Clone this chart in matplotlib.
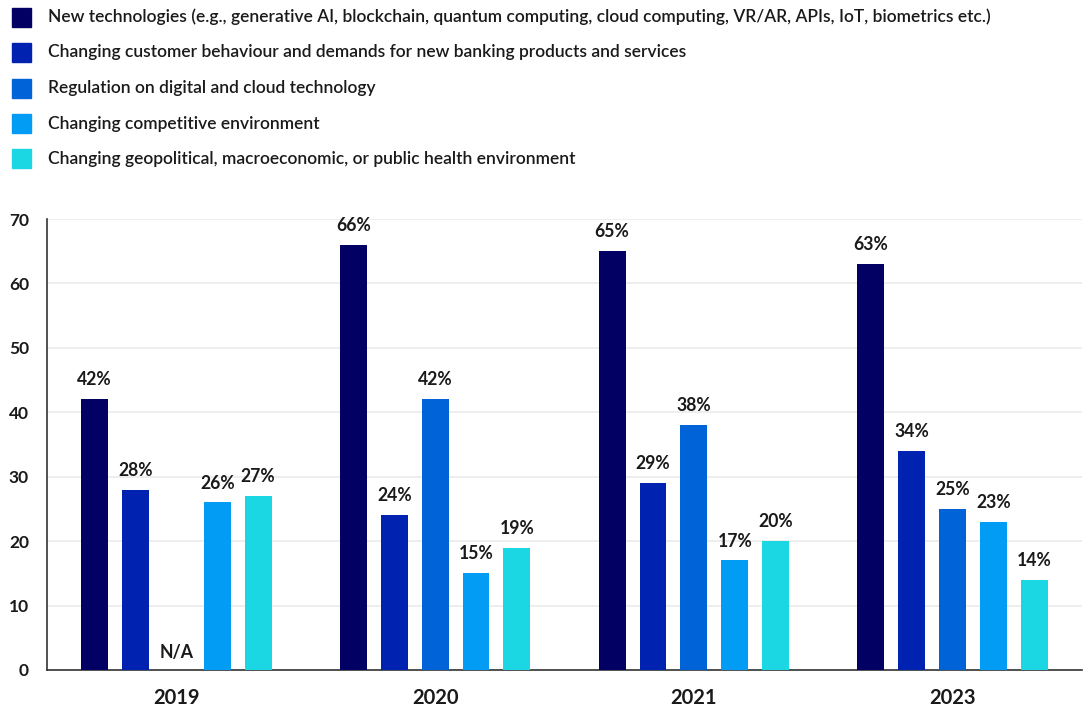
import matplotlib
matplotlib.use("Agg")
import matplotlib.pyplot as plt
from matplotlib.patches import Rectangle
import numpy as np

plt.rcParams['font.family'] = ['Lato', 'DejaVu Sans']

# data
years = ["2019", "2020", "2021", "2023"]
series_names = [
    "New technologies (e.g., generative AI, blockchain, quantum computing, cloud computing, VR/AR, APIs, IoT, biometrics etc.)",
    "Changing customer behaviour and demands for new banking products and services",
    "Regulation on digital and cloud technology",
    "Changing competitive environment",
    "Changing geopolitical, macroeconomic, or public health environment",
]
new_tech = [42, 66, 65, 63]
customer = [28, 24, 29, 34]
regulation = [None, 42, 38, 25]
competitive = [26, 15, 17, 23]
geopolitical = [27, 19, 20, 14]
colors = ["#020062", "#0022B0", "#0063D8", "#039CF5", "#1BD6E3"]

series = [new_tech, customer, regulation, competitive, geopolitical]

fig = plt.figure(figsize=(10.85, 7.11), dpi=100)
ax = fig.add_axes([47/1085, 1 - 670/711, 1035/1085, 451/711])

x = np.arange(len(years))
step = 0.158
width = 0.104
for i, (vals, col) in enumerate(zip(series, colors)):
    pos = x + (i - 2) * step
    for p, v in zip(pos, vals):
        if v is None:
            ax.text(p, 1.4, "N/A", ha="center", va="bottom", fontsize=12.7,
                    fontweight="bold", color="#1a1a1a")
            continue
        ax.bar(p, v, width=width, color=col, zorder=3)
        ax.text(p, v + 1.7, f"{v}%", ha="center", va="bottom", fontsize=12.7,
                fontweight="bold", color="#1a1a1a")

ax.set_xlim(-0.5, len(years) - 0.5)
ax.set_ylim(0, 70)
ax.set_yticks(range(0, 71, 10))
ax.set_xticks(x)
ax.set_xticklabels(years, fontsize=14.5, fontweight="bold", color="#1a1a1a")
ax.tick_params(axis="y", length=0, pad=13, labelsize=12.5, labelcolor="#1a1a1a")
ax.tick_params(axis="x", length=0, pad=13)
for lab in ax.get_yticklabels():
    lab.set_fontweight("bold")
ax.grid(axis="y", color="#EBEBEB", linewidth=1.2, zorder=0)
ax.set_axisbelow(True)
for s in ["top", "right"]:
    ax.spines[s].set_visible(False)
ax.spines["left"].set_color("#333333")
ax.spines["bottom"].set_color("#333333")
ax.spines["left"].set_linewidth(1.2)
ax.spines["bottom"].set_linewidth(1.2)

# legend drawn by hand
for i, (name, col) in enumerate(zip(series_names, colors)):
    yc = 1 - (17 + i * 35.5) / 711
    fig.patches.append(Rectangle((12/1085, yc - 9.5/711), 19/1085, 19/711,
                                 transform=fig.transFigure, color=col))
    fig.text(48/1085, yc, name, ha="left", va="center", fontsize=12.5,
             fontweight="semibold", color="#1a1a1a")

fig.savefig("out.png", dpi=100)
